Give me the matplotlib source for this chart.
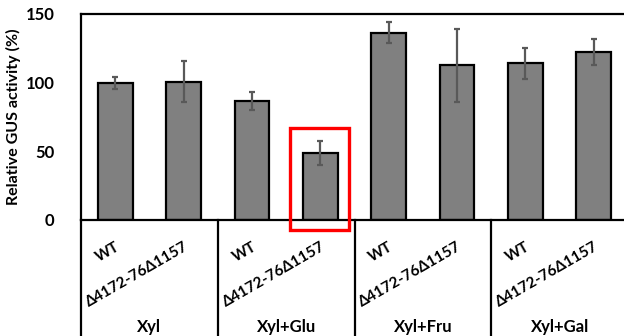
"""Relative GUS activity bar chart"""

import matplotlib.pyplot as plt
from matplotlib.patches import Rectangle
from matplotlib.lines import Line2D

plt.rcParams['font.family'] = 'Lato'

strains = ['WT', 'Δ4172-76Δ1157'] * 4
groups = ['Xyl', 'Xyl+Glu', 'Xyl+Fru', 'Xyl+Gal']
values = [100, 100.7, 86.7, 48.8, 136.4, 112.7, 114, 122.6]
errors = [4.3, 15, 6.4, 8.5, 7.5, 26.5, 11.3, 9.5]
yticks = [0, 50, 100, 150]


def main():
    """Main fonction"""
    fig = plt.figure(figsize=(6.24, 3.36), dpi=100)
    ax = fig.add_axes([81 / 624, 116 / 336, 547 / 624, 206 / 336])

    x = list(range(len(values)))
    ax.bar(x, values, width=0.51, color='#808080', edgecolor='black',
           linewidth=1.6, zorder=2)
    ax.errorbar(x, values, yerr=errors, fmt='none', ecolor='#595959',
                elinewidth=1.6, capsize=2, capthick=1.6, zorder=3)

    ax.set_xlim(-0.5, 7.5)
    ax.set_ylim(0, 150)
    ax.set_yticks(yticks)
    ax.set_yticklabels([str(t) for t in yticks], fontsize=12,
                       fontweight='bold')
    ax.tick_params(axis='y', length=0, pad=19)
    ax.set_ylabel('Relative GUS activity (%)', fontsize=11.5,
                  fontweight='bold')
    ax.yaxis.set_label_coords(-0.11, 0.5)

    # strain labels as rotated x tick labels
    ax.set_xticks(x)
    ax.set_xticklabels(strains, rotation=30, ha='right',
                       rotation_mode='anchor', fontsize=11,
                       fontweight='bold')
    ax.tick_params(axis='x', length=0, pad=14)

    for side in ['left', 'bottom', 'top']:
        ax.spines[side].set_linewidth(1.6)
    ax.spines['right'].set_visible(False)

    # group labels and separators
    toFig = ax.transData + fig.transFigure.inverted()
    for g, name in enumerate(groups):
        fx, fy = toFig.transform((2 * g + 0.5, 0))
        fig.text(fx, fy - 107 / 336, name, ha='center', va='center',
                 fontsize=12, fontweight='bold')
    for b in [-0.5, 1.5, 3.5, 5.5]:
        ax.add_line(Line2D([b, b], [0, -85], color='black', linewidth=1.6,
                           clip_on=False))

    # red highlight box
    ax.add_patch(Rectangle((2.56, -7.3), 0.86, 74.1, fill=False,
                           edgecolor='#ff0000', linewidth=2.4,
                           clip_on=False, zorder=4))

    fig.savefig('out.png', dpi=100)


if __name__ == "__main__":
    main()
